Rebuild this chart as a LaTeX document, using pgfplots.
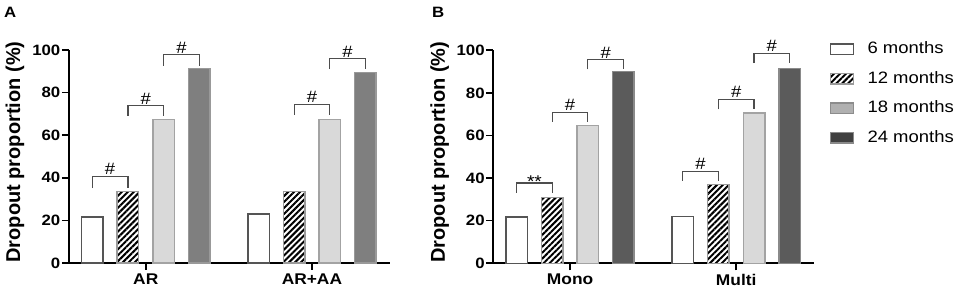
\documentclass[border=0pt]{standalone}
\usepackage{fontspec}
\setmainfont{Liberation Sans}
\newfontfamily\wide{Liberation Sans}[FakeStretch=1.12]
\usepackage{pgfplots}
\pgfplotsset{compat=1.18}
\usetikzlibrary{patterns.meta}
\definecolor{edgeW}{HTML}{555555}
\definecolor{edgeH}{HTML}{9A9A9A}
\definecolor{fillL}{HTML}{D9D9D9}
\definecolor{edgeL}{HTML}{A3A3A3}
\definecolor{fillLL}{HTML}{B0B0B0}
\definecolor{edgeLL}{HTML}{8C8C8C}
\definecolor{fillDA}{HTML}{7F7F7F}
\definecolor{edgeDA}{HTML}{999999}
\definecolor{fillDB}{HTML}{5B5B5B}
\definecolor{edgeDB}{HTML}{8A8A8A}
\definecolor{fillDL}{HTML}{404040}
\definecolor{brc}{HTML}{4D4D4D}
\tikzset{
  lbl/.style={anchor=base, font=\wide\fontsize{16.5}{16.5}\selectfont, inner sep=0pt, yshift=1.5pt},
  starlbl/.style={anchor=base, font=\wide\fontsize{17}{17}\selectfont, inner sep=0pt, yshift=-4.5pt},
}
\pgfplotsset{
  panel/.style={
    scale only axis, width=321pt, height=213pt,
    xmin=-0.462, xmax=1.47, ymin=0, ymax=100,
    axis x line=bottom, axis y line=left,
    axis line style={-, line width=1.8pt, black},
    every tick/.style={line width=1.6pt, black},
    tick align=outside, major tick length=7pt,
    ytick={0,20,40,60,80,100}, xtick={0,1},
    /pgf/number format/assume math mode=true,
    yticklabel style={font=\wide\bfseries\fontsize{15}{15}\selectfont, inner sep=1.5pt},
    xticklabel style={font=\wide\bfseries\fontsize{15.5}{15.5}\selectfont},
    ylabel={Dropout proportion (\%)},
    ylabel style={font=\bfseries\fontsize{20}{20}\selectfont, anchor=center},
    clip=false,
  },
  b6/.style={ybar, bar width=21.5pt, bar shift=-53.4pt, fill=white, draw=edgeW, line width=1.5pt, forget plot},
  b12/.style={ybar, bar width=21.5pt, bar shift=-17.8pt, fill=white, postaction={pattern={Lines[angle=45,distance=4.2pt,line width=2pt]}, pattern color=black}, draw=edgeH, line width=1.5pt, forget plot},
  b18/.style={ybar, bar width=21.5pt, bar shift=17.8pt, fill=fillL, draw=edgeL, line width=1.5pt, forget plot},
  b24A/.style={ybar, bar width=21.5pt, bar shift=53.4pt, fill=fillDA, draw=edgeDA, line width=1.5pt, forget plot},
  b24B/.style={ybar, bar width=21.5pt, bar shift=53.4pt, fill=fillDB, draw=edgeDB, line width=1.5pt, forget plot},
  br/.style={draw=brc, line width=1.1pt, mark=none, sharp plot, forget plot},
}
\begin{document}
\begin{tikzpicture}
\path[use as bounding box] (0,0) rectangle (957pt,296pt);
\node[anchor=base west, font=\wide\bfseries\fontsize{15}{15}\selectfont, inner sep=0pt] at (4pt,278pt) {A};
\node[anchor=base west, font=\wide\bfseries\fontsize{15}{15}\selectfont, inner sep=0pt] at (432pt,278pt) {B};

\begin{axis}[panel, at={(69pt,33pt)}, anchor=south west,
  xticklabels={AR,AR+AA},
  ylabel style={at={(axis description cs:-0.168,0.521)}}]
\addplot[b6] coordinates {(0,21.5) (1,23.0)};
\addplot[b12] coordinates {(0,33.5) (1,33.5)};
\addplot[b18] coordinates {(0,67.4) (1,67.4)};
\addplot[b24A] coordinates {(0,91.2) (1,89.5)};
% brackets AR
\addplot[br] coordinates {(-0.3217,35.2) (-0.3217,40.8) (-0.1072,40.8) (-0.1072,35.2)};
\addplot[br] coordinates {(-0.1072,69.2) (-0.1072,73.8) (0.1072,73.8) (0.1072,69.2)};
\addplot[br] coordinates {(0.1072,92.5) (0.1072,97.7) (0.3217,97.7) (0.3217,92.5)};
\node[lbl] at (axis cs:-0.2145,40.8) {\#};
\node[lbl] at (axis cs:0,73.8) {\#};
\node[lbl] at (axis cs:0.2145,97.7) {\#};
% brackets AR+AA
\addplot[br] coordinates {(0.8928,69.5) (0.8928,74.5) (1.1072,74.5) (1.1072,69.5)};
\addplot[br] coordinates {(1.1072,91.0) (1.1072,95.8) (1.3217,95.8) (1.3217,91.0)};
\node[lbl] at (axis cs:1,74.5) {\#};
\node[lbl] at (axis cs:1.2145,95.8) {\#};
\end{axis}

\begin{axis}[panel, at={(493.3pt,32.7pt)}, anchor=south west,
  xticklabels={Mono,Multi},
  ylabel style={at={(axis description cs:-0.167,0.521)}},
  legend style={at={(1.047,1.040)}, anchor=north west, draw=none, fill=none, inner sep=0pt,
    font=\wide\fontsize{16.5}{16.5}\selectfont, row sep=14pt,
    nodes={inner sep=0pt, text height=12pt, text depth=3.5pt}},
  legend cell align=left,
  legend image code/.code={\draw[#1, line width=1.5pt] (0pt,-5pt) rectangle (23pt,5.5pt); \path (37pt,0pt);}]
\addplot[b6] coordinates {(0,21.7) (1,22.0)};
\addplot[b12] coordinates {(0,31.0) (1,37.1)};
\addplot[b18] coordinates {(0,64.8) (1,70.6)};
\addplot[b24B] coordinates {(0,90.0) (1,91.5)};
% brackets Mono
\addplot[br] coordinates {(-0.3217,33.1) (-0.3217,37.7) (-0.1072,37.7) (-0.1072,33.1)};
\addplot[br] coordinates {(-0.1072,66.5) (-0.1072,71.0) (0.1072,71.0) (0.1072,66.5)};
\addplot[br] coordinates {(0.1072,91.0) (0.1072,95.6) (0.3217,95.6) (0.3217,91.0)};
\node[starlbl] at (axis cs:-0.2145,37.7) {**};
\node[lbl] at (axis cs:0,71.0) {\#};
\node[lbl] at (axis cs:0.2145,95.6) {\#};
% brackets Multi
\addplot[br] coordinates {(0.6783,38.8) (0.6783,43.3) (0.8928,43.3) (0.8928,38.8)};
\addplot[br] coordinates {(0.8928,72.3) (0.8928,77.0) (1.1072,77.0) (1.1072,72.3)};
\addplot[br] coordinates {(1.1072,94.0) (1.1072,98.7) (1.3217,98.7) (1.3217,94.0)};
\node[lbl] at (axis cs:0.7855,43.3) {\#};
\node[lbl] at (axis cs:1,77.0) {\#};
\node[lbl] at (axis cs:1.2145,98.7) {\#};
% legend
\addlegendimage{fill=white, draw=edgeW}
\addlegendentry{6 months}
\addlegendimage{fill=white, postaction={pattern={Lines[angle=45,distance=4.2pt,line width=2pt]}, pattern color=black}, draw=edgeH}
\addlegendentry{12 months}
\addlegendimage{fill=fillLL, draw=edgeLL}
\addlegendentry{18 months}
\addlegendimage{fill=fillDL, draw=edgeDB}
\addlegendentry{24 months}
\end{axis}
\end{tikzpicture}
\end{document}
